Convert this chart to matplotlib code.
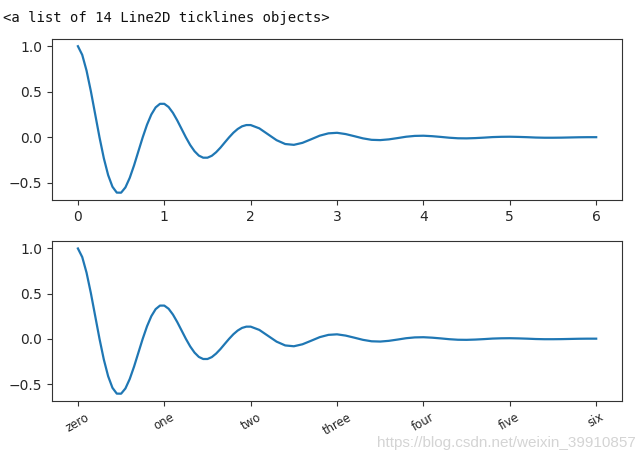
import matplotlib
matplotlib.use("Agg")
import matplotlib.pyplot as plt

x_values = [0.0, 0.05, 0.1, 0.15, 0.2, 0.25, 0.3, 0.35, 0.4, 0.45, 0.5, 0.55, 0.6, 0.65,
            0.7, 0.75, 0.8, 0.85, 0.9, 0.95, 1.0, 1.05, 1.1, 1.15, 1.2, 1.25, 1.3, 1.35,
            1.4, 1.45, 1.5, 1.55, 1.6, 1.65, 1.7, 1.75, 1.8, 1.85, 1.9, 1.95, 2.0,
            2.1, 2.2, 2.3, 2.4, 2.5, 2.6, 2.7, 2.8, 2.9, 3.0, 3.1, 3.2, 3.3, 3.4, 3.5,
            3.6, 3.7, 3.8, 3.9, 4.0, 4.1, 4.2, 4.3, 4.4, 4.5, 4.6, 4.7, 4.8, 4.9, 5.0,
            5.1, 5.2, 5.3, 5.4, 5.5, 5.6, 5.7, 5.8, 5.9, 6.0]
y_values = [1.000, 0.905, 0.732, 0.506, 0.253, 0.000, -0.229, -0.414, -0.542, -0.606,
            -0.607, -0.549, -0.444, -0.307, -0.153, 0.000, 0.139, 0.251, 0.329, 0.368,
            0.368, 0.333, 0.269, 0.186, 0.093, 0.000, -0.084, -0.152, -0.200, -0.223,
            -0.223, -0.202, -0.163, -0.113, -0.056, 0.000, 0.051, 0.092, 0.121, 0.135,
            0.135, 0.099, 0.034, -0.031, -0.073, -0.082, -0.060, -0.021, 0.019, 0.044,
            0.050, 0.036, 0.013, -0.011, -0.027, -0.030, -0.022, -0.008, 0.007, 0.016,
            0.018, 0.013, 0.005, -0.004, -0.010, -0.011, -0.008, -0.003, 0.003, 0.006,
            0.007, 0.005, 0.002, -0.002, -0.004, -0.004, -0.003, -0.001, 0.001, 0.002,
            0.002]
tick_positions = [0, 1, 2, 3, 4, 5, 6]
tick_labels = ["zero", "one", "two", "three", "four", "five", "six"]
header_text = "<a list of 14 Line2D ticklines objects>"
watermark_text = "https://blog.csdn.net/weixin_39910857"

fig = plt.figure(figsize=(6.42, 4.63), dpi=100)
ax1 = fig.add_axes([0.081, 0.568, 0.888, 0.348])
ax2 = fig.add_axes([0.081, 0.134, 0.888, 0.345])

ax1.plot(x_values, y_values, color="#1f77b4", lw=1.6)
ax2.plot(x_values, y_values, color="#1f77b4", lw=1.6)

ax1.set_yticks([-0.5, 0.0, 0.5, 1.0])
ax2.set_yticks([-0.5, 0.0, 0.5, 1.0])
ax1.set_xticks(tick_positions)
ax2.set_xticks(tick_positions)
ax2.set_xticklabels(tick_labels, rotation=30, fontsize="small")

for ax in (ax1, ax2):
    for s in ax.spines.values():
        s.set_color("#333333")
    ax.tick_params(colors="#333333", labelcolor="#262626")

fig.text(0.004, 0.961, header_text, family="DejaVu Sans Mono", fontsize=10,
         va="center", ha="left", color="#111111")
fig.text(0.99, 0.043, watermark_text, family="Liberation Sans", fontsize=11,
         va="center", ha="right", color="#d4d4d4")

fig.savefig("out.png", dpi=100)
